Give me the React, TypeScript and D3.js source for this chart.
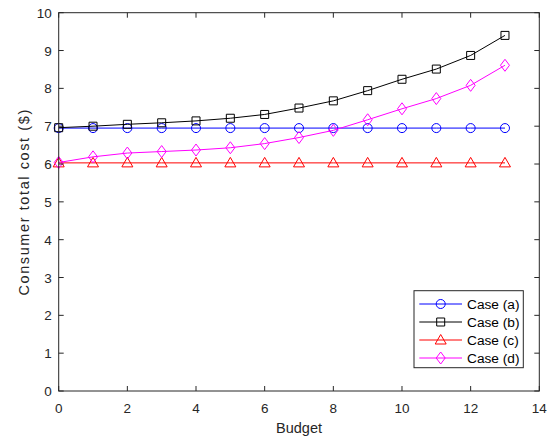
import React, { useEffect, useRef } from "react";
import * as d3 from "d3";

// budget steps and the four cases
const budget = [0, 1, 2, 3, 4, 5, 6, 7, 8, 9, 10, 11, 12, 13];
const caseA = [6.95, 6.95, 6.95, 6.95, 6.95, 6.95, 6.95, 6.95, 6.95, 6.95, 6.95, 6.95, 6.95, 6.95];
const caseB = [6.96, 7.0, 7.05, 7.09, 7.14, 7.21, 7.31, 7.48, 7.67, 7.94, 8.24, 8.51, 8.87, 9.4];
const caseC = [6.03, 6.03, 6.03, 6.03, 6.03, 6.03, 6.03, 6.03, 6.03, 6.03, 6.03, 6.03, 6.03, 6.03];
const caseD = [6.04, 6.19, 6.29, 6.33, 6.37, 6.43, 6.54, 6.7, 6.89, 7.17, 7.46, 7.73, 8.08, 8.61];

const xTicks = [0, 2, 4, 6, 8, 10, 12, 14];
const yTicks = [0, 1, 2, 3, 4, 5, 6, 7, 8, 9, 10];

const series = [
  { name: "Case (a)", values: caseA, color: "#0000ff", marker: "circle" },
  { name: "Case (b)", values: caseB, color: "#000000", marker: "square" },
  { name: "Case (c)", values: caseC, color: "#ff0000", marker: "triangle" },
  { name: "Case (d)", values: caseD, color: "#ff00ff", marker: "diamond" },
];

const font = "'Liberation Sans', Arial, sans-serif";
const axisColor = "#262626";

function markerPath(kind: string) {
  switch (kind) {
    case "circle":
      return d3.symbol(d3.symbolCircle, 64)();
    case "square":
      return "M-4,-4H4V4H-4Z";
    case "triangle":
      return "M0,-5.5L5.5,4L-5.5,4Z";
    default:
      return "M0,-6L4.5,0L0,6L-4.5,0Z";
  }
}

export default function App() {
  const ref = useRef<SVGSVGElement>(null);

  useEffect(() => {
    const svg = d3.select(ref.current);
    svg.selectAll("*").remove();

    const left = 58.7, right = 539.3, top = 12.7, bottom = 391;
    const x = d3.scaleLinear().domain([0, 14]).range([left, right]);
    const y = d3.scaleLinear().domain([0, 10]).range([bottom, top]);

    const g = svg.append("g");

    // series lines + markers
    series.forEach((s) => {
      const line = d3
        .line<number>()
        .x((_, i) => x(budget[i]))
        .y((v) => y(v));
      g.append("path")
        .attr("d", line(s.values))
        .attr("fill", "none")
        .attr("stroke", s.color)
        .attr("stroke-width", 1);
      g.selectAll(null)
        .data(s.values)
        .enter()
        .append("path")
        .attr("d", markerPath(s.marker))
        .attr("transform", (v, i) => `translate(${x(budget[i])},${y(v)})`)
        .attr("fill", "none")
        .attr("stroke", s.color)
        .attr("stroke-width", 1);
    });

    // box
    g.append("rect")
      .attr("x", left)
      .attr("y", top)
      .attr("width", right - left)
      .attr("height", bottom - top)
      .attr("fill", "none")
      .attr("stroke", axisColor)
      .attr("stroke-width", 1);

    const tl = 5;
    // x ticks
    xTicks.forEach((t) => {
      const px = x(t);
      g.append("line").attr("x1", px).attr("x2", px).attr("y1", bottom).attr("y2", bottom - tl).attr("stroke", axisColor);
      g.append("line").attr("x1", px).attr("x2", px).attr("y1", top).attr("y2", top + tl).attr("stroke", axisColor);
      g.append("text")
        .attr("x", px)
        .attr("y", bottom + 22)
        .attr("text-anchor", "middle")
        .attr("font-family", font)
        .attr("font-size", 13.5)
        .attr("fill", axisColor)
        .text(t);
    });
    // y ticks
    yTicks.forEach((t) => {
      const py = y(t);
      g.append("line").attr("x1", left).attr("x2", left + tl).attr("y1", py).attr("y2", py).attr("stroke", axisColor);
      g.append("line").attr("x1", right).attr("x2", right - tl).attr("y1", py).attr("y2", py).attr("stroke", axisColor);
      g.append("text")
        .attr("x", left - 7)
        .attr("y", py + 5)
        .attr("text-anchor", "end")
        .attr("font-family", font)
        .attr("font-size", 13.5)
        .attr("fill", axisColor)
        .text(t);
    });

    // axis labels
    g.append("text")
      .attr("x", (left + right) / 2)
      .attr("y", 433)
      .attr("text-anchor", "middle")
      .attr("font-family", font)
      .attr("font-size", 14.5)
      .attr("fill", axisColor)
      .text("Budget");
    g.append("text")
      .attr("transform", `translate(29,${(top + bottom) / 2}) rotate(-90)`)
      .attr("text-anchor", "middle")
      .attr("font-family", font)
      .attr("font-size", 14.5)
      .attr("letter-spacing", 1.6)
      .attr("fill", axisColor)
      .text("Consumer total cost ($)");

    // legend
    const lg = g.append("g");
    lg.append("rect")
      .attr("x", 414)
      .attr("y", 290.7)
      .attr("width", 109.3)
      .attr("height", 77)
      .attr("fill", "white")
      .attr("stroke", axisColor)
      .attr("stroke-width", 1);
    series.forEach((s, i) => {
      const ry = 304 + i * 18;
      lg.append("line").attr("x1", 419.3).attr("x2", 462).attr("y1", ry).attr("y2", ry).attr("stroke", s.color);
      lg.append("path")
        .attr("d", markerPath(s.marker))
        .attr("transform", `translate(440.7,${ry})`)
        .attr("fill", "none")
        .attr("stroke", s.color);
      lg.append("text")
        .attr("x", 467)
        .attr("y", ry + 5)
        .attr("font-family", font)
        .attr("font-size", 13.7)
        .attr("fill", "#000")
        .text(s.name);
    });
  }, []);

  return (
    <svg ref={ref} width={554} height={440} style={{ position: "absolute", left: 0, top: 0, background: "white" }} />
  );
}
